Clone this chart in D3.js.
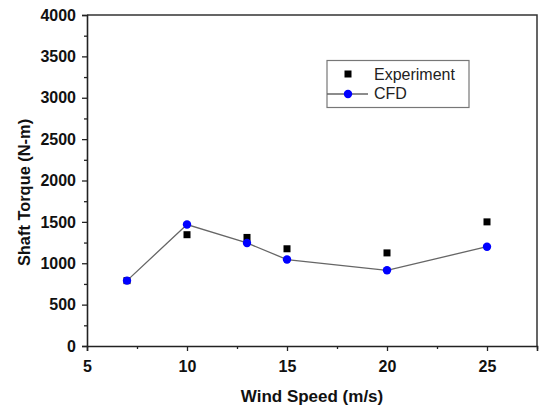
<!DOCTYPE html>
<html>
<head>
<meta charset="utf-8">
<script src="https://cdn.jsdelivr.net/npm/d3@7"></script>
<style>
  html, body { margin: 0; padding: 0; background: #fff; }
  svg { display: block; }
</style>
</head>
<body>
<svg id="chart" width="540" height="407"></svg>
<script>
// Wind speed (m/s) at which torque was measured / simulated
const windSpeed = [7, 10, 13, 15, 20, 25];
// Shaft torque (N-m)
const experimentTorque = [790, 1345, 1312, 1175, 1125, 1500];
const cfdTorque = [790, 1468, 1245, 1045, 915, 1200];
// Axis ticks
const xTicks = [5, 10, 15, 20, 25];
const xMinorTicks = [7.5, 12.5, 17.5, 22.5, 27.5];
const yTicks = [0, 500, 1000, 1500, 2000, 2500, 3000, 3500, 4000];
const yMinorTicks = d3.range(250, 4000, 500);
const seriesNames = ["Experiment", "CFD"];

const svg = d3.select("#chart");
const plotLeft = 87, plotRight = 537, plotTop = 15, plotBottom = 346;

const x = d3.scaleLinear().domain([5, 27.5]).range([plotLeft, plotRight]);
const y = d3.scaleLinear().domain([0, 4000]).range([plotBottom, plotTop]);

const font = "'Liberation Sans', Arial, sans-serif";

// Frame (top and right edges)
svg.append("path")
  .attr("d", `M${plotLeft},${plotTop}H${plotRight}V${plotBottom}`)
  .attr("fill", "none").attr("stroke", "#333").attr("stroke-width", 1.5);

// X axis
const xAxisG = svg.append("g").attr("transform", `translate(0,${plotBottom})`)
  .call(d3.axisBottom(x).tickValues(xTicks).tickSize(5).tickFormat(d3.format("d")));
xAxisG.selectAll(".tick text").attr("y", 26).attr("dy", 0);
svg.append("g").attr("transform", `translate(0,${plotBottom})`)
  .call(d3.axisBottom(x).tickValues(xMinorTicks).tickSize(3).tickFormat(""))
  .call(g => g.select(".domain").remove());

// Y axis
svg.append("g").attr("transform", `translate(${plotLeft},0)`)
  .call(d3.axisLeft(y).tickValues(yTicks).tickSize(5).tickPadding(6).tickFormat(d3.format("d")));
svg.append("g").attr("transform", `translate(${plotLeft},0)`)
  .call(d3.axisLeft(y).tickValues(yMinorTicks).tickSize(3).tickFormat(""))
  .call(g => g.select(".domain").remove());

svg.selectAll(".domain").attr("stroke", "#222").attr("stroke-width", 1.6);
svg.selectAll(".tick line").attr("stroke", "#222").attr("stroke-width", 1.3);
svg.selectAll(".tick text")
  .attr("font-family", font).attr("font-size", 16).attr("font-weight", "bold").attr("fill", "#111");

// Axis titles
svg.append("text")
  .attr("x", (plotLeft + plotRight) / 2).attr("y", 402)
  .attr("text-anchor", "middle")
  .attr("font-family", font).attr("font-size", 17).attr("font-weight", "bold").attr("fill", "#111")
  .text("Wind Speed (m/s)");
svg.append("text")
  .attr("transform", `translate(29.5,192.5) rotate(-90)`)
  .attr("text-anchor", "middle")
  .attr("font-family", font).attr("font-size", 16.4).attr("font-weight", "bold").attr("fill", "#111")
  .text("Shaft Torque (N-m)");

// Experiment markers (squares)
svg.append("g").selectAll("rect")
  .data(windSpeed.map((w, i) => [w, experimentTorque[i]]))
  .join("rect")
  .attr("x", d => x(d[0]) - 3.5).attr("y", d => y(d[1]) - 3.5)
  .attr("width", 7).attr("height", 7).attr("fill", "#000");

// CFD line and markers
const line = d3.line().x(d => x(d[0])).y(d => y(d[1]));
const cfdPts = windSpeed.map((w, i) => [w, cfdTorque[i]]);
svg.append("path").datum(cfdPts)
  .attr("d", line).attr("fill", "none").attr("stroke", "#666").attr("stroke-width", 1.3);
svg.append("g").selectAll("circle")
  .data(cfdPts).join("circle")
  .attr("cx", d => x(d[0])).attr("cy", d => y(d[1])).attr("r", 4.2).attr("fill", "#0000ff");

// Legend
const lg = svg.append("g");
lg.append("rect").attr("x", 327).attr("y", 60.5).attr("width", 142).attr("height", 47)
  .attr("fill", "#fff").attr("stroke", "#777").attr("stroke-width", 1.2);
lg.append("rect").attr("x", 344.5).attr("y", 70.5).attr("width", 7).attr("height", 7).attr("fill", "#000");
lg.append("line").attr("x1", 327).attr("x2", 368).attr("y1", 94).attr("y2", 94)
  .attr("stroke", "#666").attr("stroke-width", 1.3);
lg.append("circle").attr("cx", 348).attr("cy", 94).attr("r", 4.2).attr("fill", "#0000ff");
lg.selectAll("text.lab").data(seriesNames).join("text")
  .attr("class", "lab")
  .attr("x", 374).attr("y", (d, i) => 80 + i * 19.3)
  .attr("font-family", font).attr("font-size", 16).attr("fill", "#222")
  .text(d => d);
</script>
</body>
</html>
